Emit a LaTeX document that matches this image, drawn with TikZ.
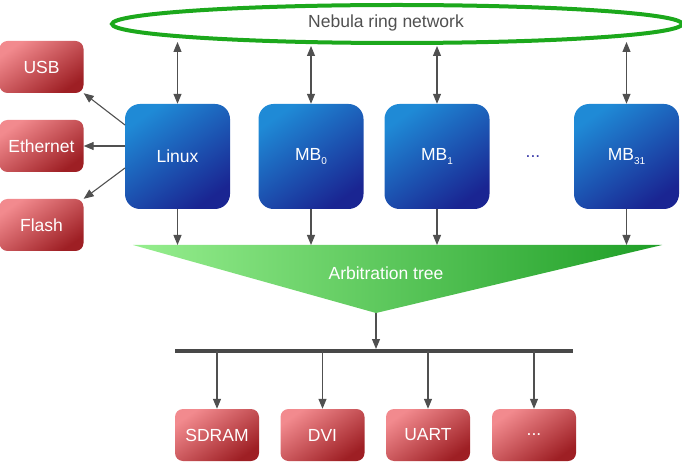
\documentclass[tikz,border=0pt]{standalone}
\usepackage{fontspec}
\setmainfont{Liberation Sans}
\usetikzlibrary{arrows.meta,shapes.geometric}
\definecolor{arrowgray}{HTML}{505050}
\definecolor{bluelight}{HTML}{1F8AD6}
\definecolor{bluedark}{HTML}{1A2592}
\definecolor{redlight}{HTML}{F28A8E}
\definecolor{reddark}{HTML}{9E1F24}
\definecolor{ringgreen}{HTML}{1CA81C}
\definecolor{trilight}{HTML}{96EE8E}
\definecolor{tridark}{HTML}{1E9E26}
\definecolor{dotsblue}{HTML}{3A3AA8}
\newcommand{\lowsub}[1]{\raisebox{-0.45ex}{\fontsize{10}{10}\selectfont #1}}
\begin{document}
\begin{tikzpicture}[x=1pt,y=-1pt,
  lbl/.style={font=\fontsize{17.5}{20}\selectfont},
  cpu/.style={lbl,rectangle,rounded corners=15pt,minimum width=105pt,minimum height=105pt,
    top color=bluelight,bottom color=bluedark,shading angle=35,text=white,inner sep=0pt},
  dev/.style={lbl,rectangle,rounded corners=8pt,minimum width=84pt,minimum height=52pt,
    top color=redlight,bottom color=reddark,shading angle=35,text=white,inner sep=0pt},
  tip/.style={},
  conn/.style={draw=arrowgray,line width=1.1pt,-{Triangle[length=10pt,width=8pt]}},
  biconn/.style={draw=arrowgray,line width=1.1pt,{Triangle[length=10pt,width=8pt]}-{Triangle[length=10pt,width=8pt]}}
]
\useasboundingbox (0,0) rectangle (682,462);
% ring
\node[ellipse,draw=ringgreen,line width=4pt,minimum width=570pt,minimum height=38pt] (ring) at (397,24) {};
\node[lbl,text=arrowgray] (ringlabel) at (386,23) {Nebula ring network};
% cpus
\node[cpu] (linux) at (177.5,156.5) {Linux};
\node[cpu] (mb0) at (311,156.5) {MB\lowsub{0}};
\node[cpu] (mb1) at (437,156.5) {MB\lowsub{1}};
\node[cpu] (mb31) at (626.5,156.5) {MB\lowsub{31}};
\node[lbl,text=dotsblue] (dots) at (533,157) {...};
% left devices
\node[dev] (usb) at (41.5,67) {USB};
\node[dev] (eth) at (41.5,146) {Ethernet};
\node[dev] (flash) at (41.5,225) {Flash};
% ring contact points
\coordinate (r0) at (177.5,42);
\coordinate (r1) at (311,46);
\coordinate (r2) at (437,46);
\coordinate (r3) at (626.5,42);
\draw[biconn] (r0) -- (linux.north);
\draw[biconn] (r1) -- (mb0.north);
\draw[biconn] (r2) -- (mb1.north);
\draw[biconn] (r3) -- (mb31.north);
% left arrows
\coordinate (lu) at (125,125);
\coordinate (le) at (125,146);
\coordinate (lf) at (125,168);
\draw[conn] (lu) -- (usb.south east);
\draw[conn] (le) -- (eth.east);
\draw[conn] (lf) -- (flash.north east);
% arbitration tree
\coordinate (tl) at (133,245);
\coordinate (tr) at (662,245);
\coordinate (apex) at (376,313);
\shade[left color=trilight,right color=tridark] (tl) -- (tr) -- (apex) -- cycle;
\node[lbl,text=white] (tree) at (386,273) {Arbitration tree};
\draw[conn] (linux.south) -- (linux.south |- tl);
\draw[conn] (mb0.south) -- (mb0.south |- tl);
\draw[conn] (mb1.south) -- (mb1.south |- tl);
\draw[conn] (mb31.south) -- (mb31.south |- tl);
% bus
\coordinate (busl) at (175,351);
\coordinate (busr) at (573,351);
\coordinate (busc) at (376,349);
\draw[draw=arrowgray!90!black,line width=4pt] (busl) -- (busr);
\draw[conn] (apex) -- (busc);
% bottom devices
\node[dev] (sdram) at (217,435) {SDRAM};
\node[dev] (dvi) at (322.5,435) {DVI};
\node[dev] (uart) at (428,435) {UART};
\node[dev] (more) at (534,435) {...};
\draw[conn] (sdram.north |- busl) -- (sdram.north);
\draw[conn] (dvi.north |- busl) -- (dvi.north);
\draw[conn] (uart.north |- busl) -- (uart.north);
\draw[conn] (more.north |- busl) -- (more.north);
\end{tikzpicture}
\end{document}
